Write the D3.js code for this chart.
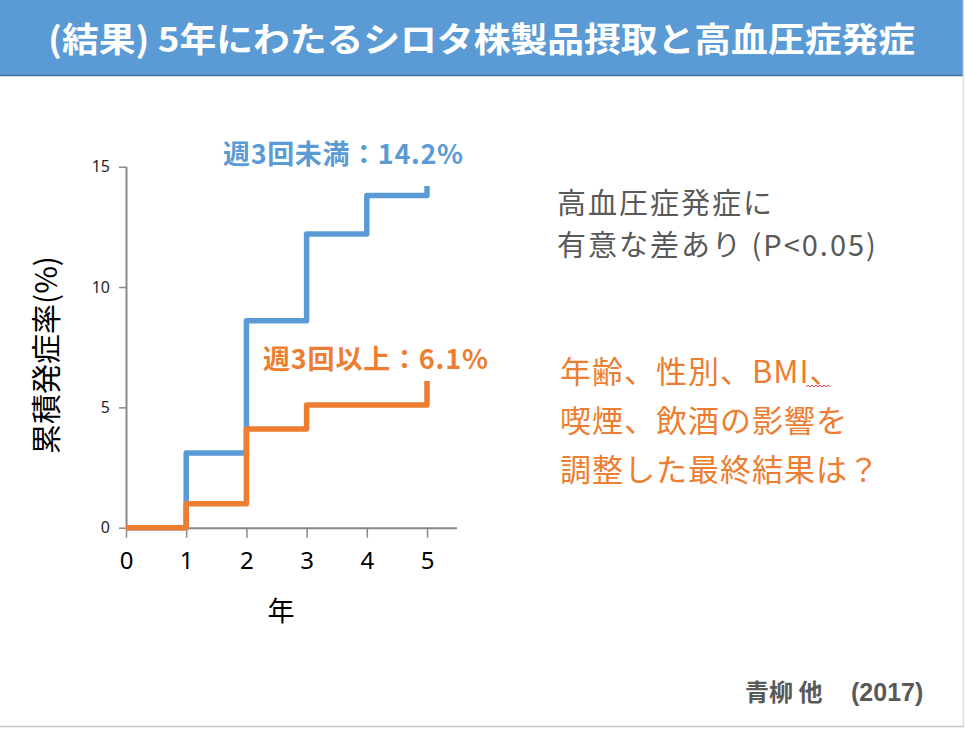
<!DOCTYPE html>
<html>
<head>
<meta charset="utf-8">
<script src="https://cdn.jsdelivr.net/npm/d3@7"></script>
<style>
  body { margin: 0; background: #fff; }
  svg { display: block; font-family: "Noto Sans CJK JP", "Noto Sans", sans-serif; }
</style>
</head>
<body>
<svg id="chart"></svg>
<script>
const width = 966;
const height = 731;

// data
const years = [0, 1, 2, 3, 4, 5];
const lessThan3 = [0, 3.1, 8.6, 12.2, 13.8, 14.2];   // 週3回未満
const threeOrMore = [0, 1.0, 4.1, 5.1, 5.1, 6.1];   // 週3回以上
const yTicks = [0, 5, 10, 15];
const xTicks = [0, 1, 2, 3, 4, 5];

const svg = d3.select("#chart")
              .attr("width", width)
              .attr("height", height);

// header band
svg.append("rect")
   .attr("x", 0).attr("y", 0)
   .attr("width", 963).attr("height", 75)
   .attr("fill", "#5b9bd5");
svg.append("line")
   .attr("x1", 0).attr("x2", 963)
   .attr("y1", 75.5).attr("y2", 75.5)
   .attr("stroke", "#41719c").attr("stroke-width", 1.5);
svg.append("text")
   .attr("x", 48).attr("y", 52)
   .attr("textLength", 867)
   .attr("lengthAdjust", "spacingAndGlyphs")
   .attr("fill", "#fff")
   .attr("font-size", 34)
   .attr("font-weight", "bold")
   .text("(結果) 5年にわたるシロタ株製品摂取と高血圧症発症");

// slide border
svg.append("line")
   .attr("x1", 963.5).attr("x2", 963.5).attr("y1", 0).attr("y2", 726)
   .attr("stroke", "#d9dfe6").attr("stroke-width", 1.5);
svg.append("line")
   .attr("x1", 0).attr("x2", 964).attr("y1", 726.5).attr("y2", 726.5)
   .attr("stroke", "#c8c8c8").attr("stroke-width", 1.5);

// chart
const x0 = 126, x5 = 427, y0 = 527.7, y15 = 166.7;
const xScale = d3.scaleLinear().domain([0, 5]).range([x0, x5]);
const yScale = d3.scaleLinear().domain([0, 15]).range([y0, y15]);

const yAxis = svg.append("g")
   .attr("transform", `translate(${x0}, 0)`)
   .call(d3.axisLeft(yScale).tickValues(yTicks).tickFormat(d3.format("d")).tickSize(7).tickPadding(9));
yAxis.select(".domain").attr("stroke", "#898989").attr("stroke-width", 2)
     .attr("d", `M0.5,${y0}V${y15}`);
yAxis.selectAll(".tick line").attr("stroke", "#898989").attr("stroke-width", 1.5);
yAxis.selectAll(".tick text").attr("font-size", 16).attr("fill", "#262626")
     .attr("font-family", "'Noto Sans', sans-serif");

const xAxis = svg.append("g")
   .attr("transform", `translate(0, ${y0})`)
   .call(d3.axisBottom(xScale).tickValues(xTicks).tickFormat(d3.format("d")).tickSize(10).tickPadding(14));
xAxis.select(".domain").attr("stroke", "#898989").attr("stroke-width", 2)
     .attr("d", `M${x0},0.5H457`);
xAxis.selectAll(".tick line").attr("stroke", "#898989").attr("stroke-width", 1.5);
xAxis.selectAll(".tick text").attr("font-size", 24).attr("fill", "#000")
     .attr("font-family", "'Noto Sans', sans-serif");

svg.append("text")
   .attr("x", 281).attr("y", 621)
   .attr("text-anchor", "middle")
   .attr("font-size", 27)
   .attr("fill", "#000")
   .text("年");

svg.append("text")
   .attr("transform", "translate(57, 355) rotate(-90)")
   .attr("text-anchor", "middle")
   .attr("font-size", 30)
   .attr("fill", "#000")
   .text("累積発症率(%)");

const line = d3.line()
   .x((d, i) => xScale(years[i]))
   .y(d => yScale(d))
   .curve(d3.curveStepAfter);

svg.append("path")
   .datum(lessThan3)
   .attr("d", line)
   .attr("fill", "none")
   .attr("stroke", "#5b9bd5")
   .attr("stroke-width", 5.5)
   .attr("stroke-linejoin", "round");

svg.append("path")
   .datum(threeOrMore)
   .attr("d", line)
   .attr("fill", "none")
   .attr("stroke", "#ed7d31")
   .attr("stroke-width", 5.5)
   .attr("stroke-linejoin", "round");

// series labels
svg.append("text")
   .attr("x", 223).attr("y", 164)
   .attr("font-size", 27).attr("font-weight", "bold")
   .attr("fill", "#5b9bd5")
   .attr("textLength", 240)
   .text("週3回未満：14.2%");
svg.append("text")
   .attr("x", 263).attr("y", 369)
   .attr("font-size", 27).attr("font-weight", "bold")
   .attr("fill", "#ed7d31")
   .attr("textLength", 225)
   .text("週3回以上：6.1%");

// notes
const grayLines = ["高血圧症発症に", "有意な差あり (P<0.05)"];
svg.append("text")
   .attr("y", 214)
   .attr("font-size", 29)
   .attr("letter-spacing", 2)
   .attr("fill", "#595959")
   .selectAll("tspan")
   .data(grayLines)
   .join("tspan")
   .attr("x", 557)
   .attr("dy", (d, i) => i === 0 ? 0 : 42)
   .text(d => d);

const orangeLines = ["年齢、性別、BMI、", "喫煙、飲酒の影響を", "調整した最終結果は？"];
svg.append("text")
   .attr("y", 383)
   .attr("font-size", 31)
   .attr("letter-spacing", 1)
   .attr("fill", "#ed7d31")
   .selectAll("tspan")
   .data(orangeLines)
   .join("tspan")
   .attr("x", 560)
   .attr("dy", (d, i) => i === 0 ? 0 : 49)
   .text(d => d);

// spell-check squiggle under 、 after BMI
svg.append("path")
   .attr("d", "M806,387 l2,-2 l2,2 l2,-2 l2,2 l2,-2 l2,2 l2,-2 l2,2 l2,-2 l2,2 l2,-2 l2,2")
   .attr("fill", "none")
   .attr("stroke", "#e84040")
   .attr("stroke-width", 1);

// source
svg.append("text")
   .attr("x", 745).attr("y", 701)
   .attr("font-size", 24).attr("font-weight", "bold")
   .attr("fill", "#595959")
   .text("青柳 他");
svg.append("text")
   .attr("x", 851).attr("y", 701)
   .attr("font-size", 25).attr("font-weight", "bold")
   .attr("fill", "#595959")
   .attr("font-family", "'Liberation Sans', Arial, sans-serif")
   .text("(2017)");
</script>
</body>
</html>
